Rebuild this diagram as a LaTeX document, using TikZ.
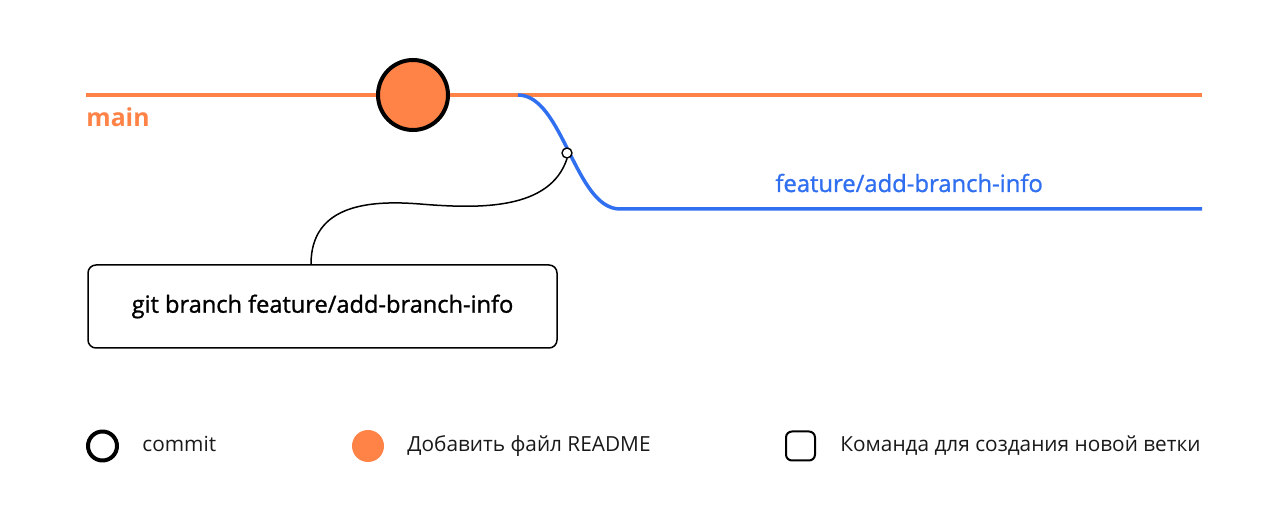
\documentclass[tikz,border=0pt]{standalone}
\usepackage{fontspec}
\setmainfont{Open Sans}
\newfontfamily\medfont[FakeBold=1.2]{Open Sans}
\definecolor{gitorange}{RGB}{255,131,71}
\definecolor{gitblue}{RGB}{48,112,240}
\tikzset{
  commitbig/.style={circle,draw=black,fill=gitorange,line width=2pt,minimum size=35pt,inner sep=0pt},
  branchdot/.style={circle,draw=black,fill=white,line width=0.7pt,minimum size=5pt,inner sep=0pt},
  cmdbox/.style={draw=black,rounded corners=4pt,line width=0.75pt,minimum width=234.5pt,minimum height=41.5pt,
    font=\medfont\fontsize{11.8}{14}\selectfont},
  legring/.style={circle,draw=black,line width=2pt,minimum size=14.5pt,inner sep=0pt},
  legdot/.style={circle,fill=gitorange,minimum size=16pt,inner sep=0pt},
  legbox/.style={draw=black,rounded corners=3pt,line width=1pt,minimum size=14.5pt,inner sep=0pt},
  legtext/.style={anchor=base west,inner sep=0pt,font=\fontsize{10.4}{12}\selectfont,text=black!90}
}
\begin{document}
\begin{tikzpicture}[x=0.5pt,y=-0.5pt,line cap=round,line join=round]
  \useasboundingbox (0,0) rectangle (1274,517);
  % branches
  \coordinate (mainstart) at (86,95);
  \coordinate (mainend) at (1202,95);
  \coordinate (forkpt) at (518,95);
  \coordinate (featbend) at (620,209);
  \coordinate (featend) at (1202,209);
  \draw[line width=2pt,gitorange,line cap=butt] (mainstart) -- (mainend);
  \draw[line width=1.75pt,gitblue,line cap=butt] (forkpt) .. controls (563,95) and (575,209) .. (featbend) -- (featend);
  \node[commitbig] (readme) at (413,95) {};
  \node[branchdot] (branchpt) at (567,153) {};
  % command box
  \node[cmdbox] (cmd) at (322.5,306.5) {git branch feature/add-branch-info};
  \draw[line width=0.75pt] ([xshift=-5.75pt]cmd.north) .. controls +(0,-60) and (370,200) .. (420,204)
    .. controls (480,209) and (550,210) .. (branchpt.south);
  % labels
  \node[anchor=base west,inner sep=0pt,text=gitorange,font=\bfseries\fontsize{12.4}{14}\selectfont] (mainlbl) at (86,127) {main};
  \node[anchor=base west,inner sep=0pt,text=gitblue,font=\medfont\fontsize{11.9}{14}\selectfont] (featlbl) at (775,192) {feature/add-branch-info};
  % legend
  \node[legring] (legcommit) at (102.5,446) {};
  \node[legtext] (txtcommit) at (142,452) {commit};
  \node[legdot] (legreadme) at (368,446) {};
  \node[legtext] (txtreadme) at (407,452) {Добавить файл README};
  \node[legbox] (legcmd) at (800.5,446) {};
  \node[legtext] (txtcmd) at (840,452) {Команда для создания новой ветки};
\end{tikzpicture}
\end{document}
